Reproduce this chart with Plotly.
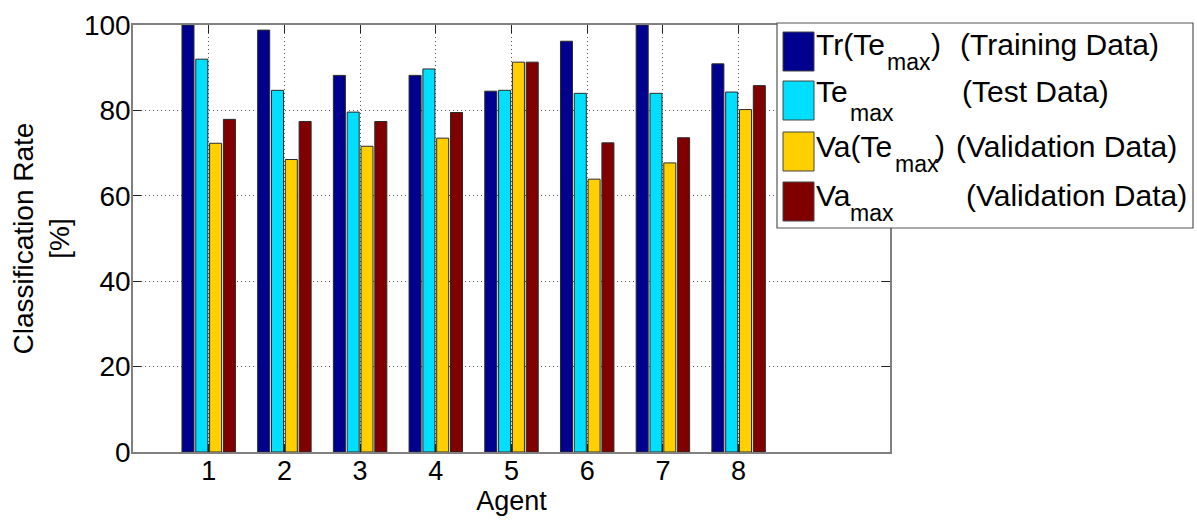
import plotly.graph_objects as go

agents = [1, 2, 3, 4, 5, 6, 7, 8]
tr_te_max = [100.0, 98.8, 88.2, 88.2, 84.5, 96.2, 100.0, 90.9]
te_max = [92.0, 84.7, 79.6, 89.7, 84.7, 84.0, 84.0, 84.3]
va_te_max = [72.3, 68.5, 71.6, 73.5, 91.3, 63.9, 67.7, 80.2]
va_max = [77.9, 77.4, 77.4, 79.5, 91.3, 72.4, 73.6, 85.8]

series_names = ["Tr(Te_max)", "Te_max", "Va(Te_max)", "Va_max"]
name_prefix = ["Tr(Te", "Te", "Va(Te", "Va"]
name_sub = ["max", "max", "max", "max"]
name_suffix = [")", "", ")", ""]
series_desc = ["(Training Data)", "(Test Data)", "(Validation Data)", "(Validation Data)"]
series_vals = [tr_te_max, te_max, va_te_max, va_max]
colors = ["#00008F", "#00DFFF", "#FFCF00", "#800000"]
y_ticks = [0, 20, 40, 60, 80, 100]

W, H = 1197, 521
L, R, T, B = 133, 890, 25, 452
FONT = "Liberation Sans, Arial, sans-serif"


def px_x(p):
    return (p - L) / (R - L)


def px_y(p):
    return (B - p) / (B - T)


fig = go.Figure()
for name, vals, c in zip(series_names, series_vals, colors):
    fig.add_trace(go.Bar(
        x=agents, y=vals, name=name, marker_color=c,
        marker_line_color="#2a2a2a", marker_line_width=1, showlegend=False,
    ))

# custom legend (box, swatches, labels)
shapes = [dict(type="rect", xref="paper", yref="paper",
               x0=px_x(777), x1=px_x(1193), y0=px_y(228), y1=px_y(23),
               line=dict(color="#555555", width=1.2), fillcolor="white", layer="above")]
annotations = []
row_tops = [32, 81, 132, 182]
main_base = [53, 101, 155, 204]
sub_base = [69, 120, 171, 220]
sub_x = [887, 850, 895, 850]
suffix_x = [931, 0, 935, 0]
desc_x = [960, 962, 956, 966]
LF, SF = 30, 23


def txt(x, y, text, size):
    return dict(xref="paper", yref="paper", x=px_x(x - 2), y=px_y(y), text=text,
                showarrow=False, xanchor="left", yanchor="middle",
                font=dict(size=size, color="black", family=FONT))


for i, c in enumerate(colors):
    top = row_tops[i]
    shapes.append(dict(type="rect", xref="paper", yref="paper",
                       x0=px_x(783), x1=px_x(814), y0=px_y(top + 39), y1=px_y(top),
                       line=dict(color="#444444", width=1), fillcolor=c, layer="above"))
    mc = main_base[i] - 0.3 * LF
    sc = sub_base[i] - 0.3 * SF
    annotations.append(txt(816, mc, name_prefix[i], LF))
    annotations.append(txt(sub_x[i], sc, name_sub[i], SF))
    if name_suffix[i]:
        annotations.append(txt(suffix_x[i], mc, name_suffix[i], LF))
    annotations.append(txt(desc_x[i], mc, series_desc[i], LF))

grid = dict(showgrid=True, gridcolor="#555555", griddash="1px,3px", gridwidth=1)
fig.update_layout(
    width=W, height=H,
    margin=dict(l=L, r=W - R, t=T, b=H - B),
    paper_bgcolor="white", plot_bgcolor="white",
    barmode="group", bargap=0.27, bargroupgap=0.13,
    font=dict(family=FONT, size=27, color="black"),
    shapes=shapes, annotations=annotations,
    showlegend=False,
)
fig.update_xaxes(
    range=[0, 10], tickmode="array", tickvals=agents, ticktext=[str(a) for a in agents],
    showline=True, linecolor="#808080", linewidth=1.5, mirror="ticks",
    ticks="inside", ticklen=8, tickcolor="#222222", tickwidth=1,
    zeroline=False, automargin=False, ticklabelstandoff=-6,
    title=dict(text="Agent", font=dict(size=27), standoff=0),
    tickfont=dict(size=27), **grid,
)
fig.update_yaxes(
    range=[0, 100], tickmode="array", tickvals=y_ticks,
    showline=True, linecolor="#808080", linewidth=1.5, mirror="ticks",
    ticks="inside", ticklen=8, tickcolor="#222222", tickwidth=1,
    zeroline=False, automargin=False, ticklabelstandoff=-5,
    title=dict(text="Classification Rate<br>[%]", font=dict(size=28), standoff=6),
    tickfont=dict(size=28), **grid,
)
fig.write_html("out.html", config={"displayModeBar": False},
               post_script="document.body.style.margin='0';")
